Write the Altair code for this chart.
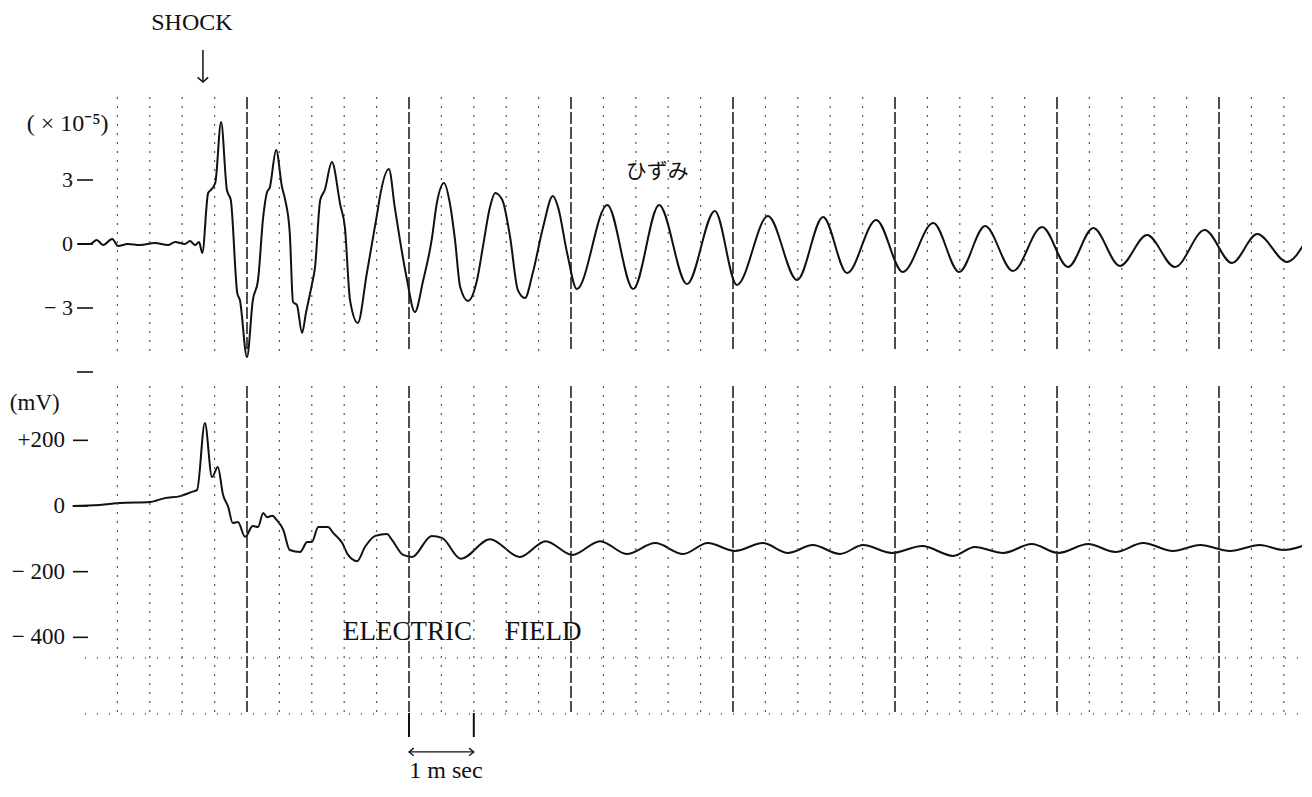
import altair as alt
import pandas as pd

# ---------------- values read from the record ----------------
# time in ms (0 = first 2.5 ms timing mark), strain in units of 1e-5
strain_t = [-2.61, -2.42, -2.32, -2.22, -2.08, -1.99, -1.84, -1.65, -1.42, -1.22, -1.11, -0.96, -0.88, -0.80, -0.74, -0.69,
            -0.60, -0.56, -0.49, -0.40, -0.31, -0.25, -0.15, -0.11, 0.00, 0.09, 0.17, 0.25, 0.31, 0.35, 0.45, 0.54, 0.59,
            0.66, 0.71, 0.77, 0.85, 0.91, 1.00, 1.05, 1.13, 1.20, 1.31, 1.44, 1.51, 1.59, 1.71, 1.85, 2.01, 2.05, 2.19,
            2.28, 2.36, 2.47, 2.59, 2.72, 2.85, 2.93, 3.04, 3.13, 3.21, 3.29, 3.41, 3.55, 3.64, 3.75, 3.83, 3.94, 4.06,
            4.18, 4.29, 4.41, 4.57, 4.72, 4.80, 4.94, 5.09,
            5.56, 5.96, 6.36, 6.79, 7.22, 7.56, 8.04, 8.49, 8.89, 9.26, 9.71, 10.12, 10.59, 10.99, 11.39, 11.82, 12.27,
            12.67, 13.06, 13.47, 13.89, 14.32, 14.78, 15.20, 15.59, 16.05, 16.33]
strain_v = [0, 0, 0.19, -0.05, 0.23, -0.09, 0, -0.05, 0.05, -0.05, 0.09, 0, 0.14, -0.05, 0.09, -0.42,
            2.39, 2.53, 2.86, 5.72, 2.53, 2.06, -2.30, -2.63, -5.30, -2.63, -1.69, 1.27, 2.44, 2.63, 4.41, 2.67, 2.06,
            0.52, -2.72, -2.86, -4.17, -3.23, -1.92, -1.08, 2.06, 2.53, 3.84, 1.83, 0.80, -2.63, -3.70, -1.36, 1.45, 2.20, 3.52,
            1.73, 0.19, -1.69, -3.19, -1.69, 0.19, 1.92, 2.86, 1.92, 0.19, -2.02, -2.67, -1.69, -0.14, 1.73, 2.39, 2.06, 0.33,
            -2.16, -2.53, -1.36, 0.80, 2.25, 1.73, -0.42, -2.11,
            1.83, -2.11, 1.83, -1.88, 1.55, -1.92, 1.31, -1.69, 1.27, -1.36, 1.13, -1.31, 0.98, -1.31, 0.84, -1.27, 0.80,
            -1.08, 0.75, -1.03, 0.42, -1.08, 0.66, -0.89, 0.47, -0.84, 0.09]

# electric field in mV
field_t = [-2.69, -2.27, -1.96, -1.50, -1.27, -1.03, -0.85, -0.77, -0.65, -0.54, -0.45, -0.37, -0.29, -0.22, -0.14, -0.03,
           0.09, 0.17, 0.25, 0.31, 0.39, 0.46, 0.56, 0.66, 0.82, 0.93, 1.00, 1.10, 1.25, 1.33, 1.47, 1.56,
           1.70, 1.82, 1.98, 2.16, 2.24, 2.41, 2.55, 2.85, 3.01, 3.30, 3.75, 4.21, 4.61, 5.02, 5.45, 5.86,
           6.30, 6.73, 7.11, 7.53, 7.96, 8.35, 8.73, 9.15, 9.51, 9.95, 10.42, 10.90, 11.23, 11.67, 12.11, 12.52,
           12.98, 13.40, 13.83, 14.29, 14.71, 15.17, 15.63, 15.99, 16.33]
field_v = [0, 3, 9, 12, 24, 30, 43, 49, 253, 88, 119, 34, -3, -52, -49, -94,
           -61, -64, -21, -34, -30, -43, -73, -134, -140, -110, -110, -64, -64, -82, -113, -149,
           -168, -125, -91, -85, -104, -149, -155, -91, -97, -161, -101, -155, -107, -149, -107, -146,
           -113, -146, -113, -137, -113, -143, -119, -146, -119, -143, -122, -152, -125, -143, -116, -143,
           -116, -140, -113, -137, -119, -137, -119, -134, -119]

strain_ticks = [3, 0, -3, -6]
strain_tick_labels = ["3", "0", "− 3", ""]
field_ticks = [200, 0, -200, -400]
field_tick_labels = ["+200", "0", "− 200", "− 400"]

# timing marks of the recorder (ms)
major_marks = [0, 2.5, 5, 7.5, 10, 12.5, 15]
minor_marks = [-2, -1.5, -1, -0.5, 0.5, 1, 1.5, 2, 3, 3.5, 4, 4.5, 5.5, 6, 6.5, 7, 8, 8.5, 9, 9.5,
               10.5, 11, 11.5, 12, 13, 13.5, 14, 14.5, 15.5, 16]
scale_bar = [2.5, 3.5]          # 1 ms
shock_time = -0.68

# ---------------- layout / scales ----------------
W, H = 1294, 776
PX_PER_MS = 64.8
T0 = 239                      # plot-x of t = 0
S0, S_PX = 236, 21.33         # plot-y of strain 0, px per 1e-5
E0, E_PX = 498, 0.32833       # plot-y of 0 mV, px per mV

INK = "#111111"
SERIF = "Liberation Serif"
CJK = "Noto Sans CJK JP"

xs = alt.Scale(domain=[-T0 / PX_PER_MS, (W - T0) / PX_PER_MS], nice=False, zero=False)
ss = alt.Scale(domain=[-(H - S0) / S_PX, S0 / S_PX], nice=False, zero=False)
es = alt.Scale(domain=[-(H - E0) / E_PX, E0 / E_PX], nice=False, zero=False)

X = lambda f: alt.X(f, type="quantitative", scale=xs, axis=None)
YS = lambda f: alt.Y(f, type="quantitative", scale=ss, axis=None)
YE = lambda f: alt.Y(f, type="quantitative", scale=es, axis=None)


def texts(rows, yfun, **style):
    df = pd.DataFrame(rows, columns=["t", "y", "label"])
    return alt.Chart(df).mark_text(color=INK, baseline="middle", **style).encode(
        x=X("t"), y=yfun("y"), text="label:N")


def ticks(values, labels, yfun, t_label, t0, t1, size):
    df = pd.DataFrame({"v": values, "label": labels, "tl": t_label, "t0": t0, "t1": t1})
    dash = alt.Chart(df).mark_rule(color=INK, strokeWidth=1.6).encode(x=X("t0"), x2="t1", y=yfun("v"))
    lab = alt.Chart(df).mark_text(color=INK, font=SERIF, fontSize=size, align="right", baseline="middle").encode(
        x=X("tl"), y=yfun("v"), text="label:N")
    return dash + lab


# ---------------- strain group ----------------
strain_df = pd.DataFrame({"t": strain_t, "v": strain_v})
strain_line = alt.Chart(strain_df).mark_line(color=INK, strokeWidth=2, interpolate="monotone").encode(
    x=X("t"), y=YS("v"))

shock_df = pd.DataFrame({"t": [shock_time], "y0": [9.10], "y1": [7.59]})
shock_stem = alt.Chart(shock_df).mark_rule(color=INK, strokeWidth=1.5).encode(
    x=X("t"), y=YS("y0"), y2="y1")
shock_head = alt.Chart(shock_df).mark_point(shape="M-1,-0.9L0,0L1,-0.9", filled=False, size=110,
                                            color=INK, strokeWidth=1.5, opacity=1).encode(
    x=X("t"), y=YS("y1"))

strain_group = alt.layer(
    strain_line, shock_stem, shock_head,
    ticks(strain_ticks, strain_tick_labels, YS, -2.685, -2.623, -2.377, 22),
    texts([(-0.85, 10.36, "SHOCK")], YS, font=SERIF, fontSize=24, align="center"),
    texts([(-3.40, 5.63, "( × 10⁻⁵)")], YS, font=SERIF, fontSize=24, align="left"),
    texts([(6.33, 3.38, "ひずみ")], YS, font=CJK, fontSize=21, align="center"),
)

# ---------------- field group ----------------
field_df = pd.DataFrame({"t": field_t, "v": field_v})
field_line = alt.Chart(field_df).mark_line(color=INK, strokeWidth=2, interpolate="monotone").encode(
    x=X("t"), y=YE("v"))

spans = [(1245.7, 469.0), (365.5, -627.4)]
major_df = pd.DataFrame([(t, a, b) for t in major_marks for a, b in spans], columns=["t", "y0", "y1"])
minor_df = pd.DataFrame([(t, a, b) for t in minor_marks for a, b in spans], columns=["t", "y0", "y1"])
major_rules = alt.Chart(major_df).mark_rule(color="#222", strokeWidth=1.6, strokeDash=[12, 3]).encode(
    x=X("t"), y=YE("y0"), y2="y1")
minor_rules = alt.Chart(minor_df).mark_rule(color="#555", strokeWidth=1.2, strokeDash=[2, 7]).encode(
    x=X("t"), y=YE("y0"), y2="y1")

rows_df = pd.DataFrame({"t0": [-2.5, -2.5], "t1": [16.3, 16.3], "y": [-633.5, -463.0]})
dotted_rows = alt.Chart(rows_df).mark_rule(color="#555", strokeWidth=1.3, strokeDash=[1, 11]).encode(
    x=X("t0"), x2="t1", y=YE("y"))

bar_df = pd.DataFrame({"t": scale_bar, "y0": [-630.5, -630.5], "y1": [-703.6, -703.6]})
bar_ticks = alt.Chart(bar_df).mark_rule(color=INK, strokeWidth=2).encode(x=X("t"), y=YE("y0"), y2="y1")
arrow_df = pd.DataFrame({"t0": [scale_bar[0]], "t1": [scale_bar[1]], "y": [-749.0]})
arrow_line = alt.Chart(arrow_df).mark_rule(color=INK, strokeWidth=1.3).encode(x=X("t0"), x2="t1", y=YE("y"))
arrow_l = alt.Chart(arrow_df).mark_point(shape="M1,-0.8L0,0L1,0.8", filled=False, size=90, color=INK,
                                         strokeWidth=1.3, opacity=1).encode(x=X("t0"), y=YE("y"))
arrow_r = alt.Chart(arrow_df).mark_point(shape="M-1,-0.8L0,0L-1,0.8", filled=False, size=90, color=INK,
                                         strokeWidth=1.3, opacity=1).encode(x=X("t1"), y=YE("y"))

field_group = alt.layer(
    field_line, major_rules, minor_rules, dotted_rows, bar_ticks, arrow_line, arrow_l, arrow_r,
    ticks(field_ticks, field_tick_labels, YE, -2.809, -2.685, -2.454, 23),
    texts([(-3.66, 314.0, "(mV)")], YE, font=SERIF, fontSize=23, align="left"),
    texts([(1.48, -384.0, "ELECTRIC"), (3.98, -384.0, "FIELD")], YE, font=SERIF, fontSize=27, align="left"),
    texts([(3.07, -807.0, "1 m sec")], YE, font=SERIF, fontSize=24, align="center"),
)

chart = alt.layer(field_group, strain_group).resolve_scale(y="independent").properties(
    width=W, height=H, padding=0, autosize=alt.AutoSizeParams(type="none"), background="white"
).configure_view(stroke=None)

chart.save("out.html", embed_options={"renderer": "svg", "actions": False})
